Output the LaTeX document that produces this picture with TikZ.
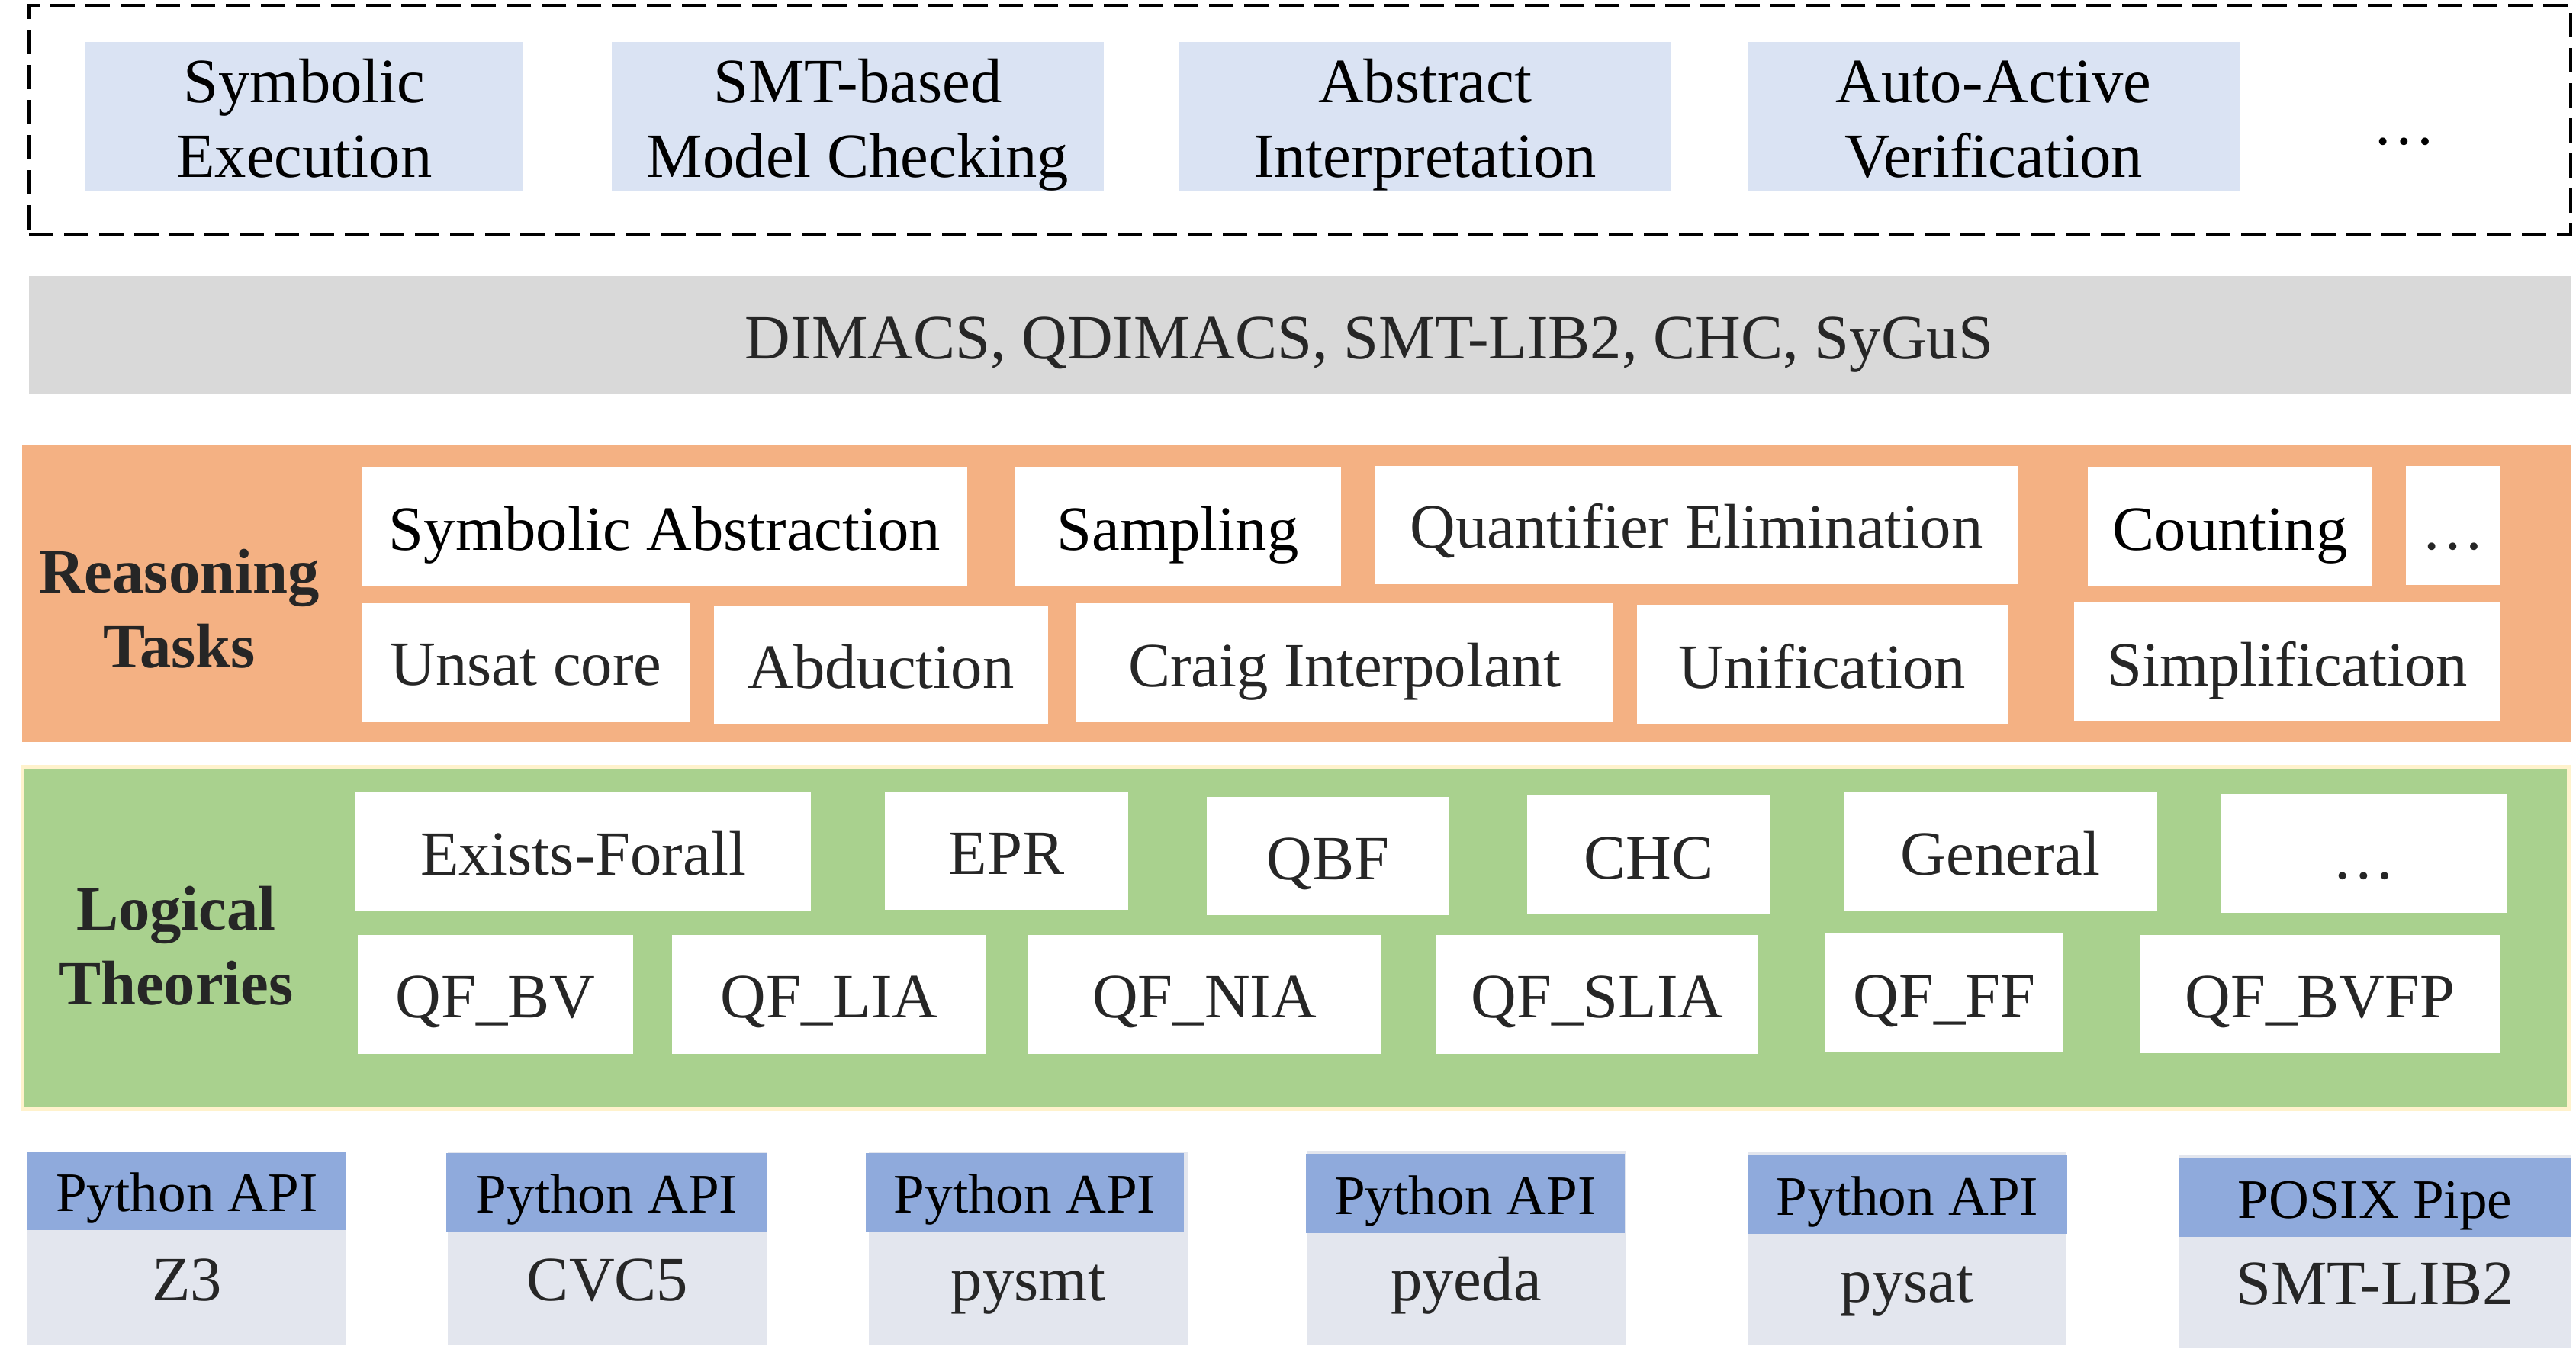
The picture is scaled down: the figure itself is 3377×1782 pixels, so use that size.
\documentclass[tikz,border=0pt]{standalone}
\usepackage{fontspec}
\setmainfont{Liberation Serif}
\definecolor{topblue}{HTML}{DAE3F3}
\definecolor{bandgray}{HTML}{D9D9D9}
\definecolor{orangep}{HTML}{F4B183}
\definecolor{greenp}{HTML}{A9D18E}
\definecolor{greenedge}{HTML}{FFF2CC}
\definecolor{hdrblue}{HTML}{8FAADC}
\definecolor{bodygray}{HTML}{E3E6EE}
\definecolor{txtgray}{HTML}{262626}
\tikzset{
  plainbox/.style={rectangle, inner sep=0pt, outer sep=0pt, align=center},
  bigfont/.style={font=\fontsize{23.5}{27.9}\selectfont},
  topbox/.style={plainbox, fill=topblue, bigfont, text=black},
  whitebox/.style={plainbox, fill=white, bigfont, text=txtgray},
  whiteboxk/.style={whitebox, text=black},
  hdr/.style={plainbox, fill=hdrblue, font=\fontsize{20.8}{25}\selectfont, text=black},
  bodybox/.style={plainbox, fill=bodygray, bigfont, text=txtgray},
  lbl/.style={plainbox, font=\fontsize{23.5}{27.9}\selectfont\bfseries, text=txtgray},
  plaintext/.style={inner sep=0pt, outer sep=0pt, bigfont},
}
% style, x1, y1, x2, y2, baseline, name, text
\newcommand\onebox[8]{\node[#1, minimum width={(#4-#2)*0.01cm}, minimum height={(#5-#3)*0.01cm}, text height={(2*#6-#3-#5)*0.01cm}, text depth=0pt] (#7) at ({(#2+#4)/2},{(#3+#5)/2}) {#8};}
% style, x1, y1, x2, y2, name
\newcommand\panelbox[6]{\node[#1, minimum width={(#4-#2)*0.01cm}, minimum height={(#5-#3)*0.01cm}] (#6) at ({(#2+#4)/2},{(#3+#5)/2}) {};}
% style, x1, y1, x2, y2, name, line1, line2
\newcommand\twobox[8]{\node[#1, minimum width={(#4-#2)*0.01cm}, minimum height={(#5-#3)*0.01cm}] (#6) at ({(#2+#4)/2},{(#3+#5)/2}) {\rule{0pt}{0.96em}#7\\#8\rule[-0.22em]{0pt}{0.22em}};}
\begin{document}
\begin{tikzpicture}[x=0.01cm,y=-0.01cm]
\useasboundingbox (0,0) rectangle (3377,1782);
% ---------- applications (dashed frame) ----------
\panelbox{plainbox, draw=black, line width=0.04cm, dash pattern=on 0.32cm off 0.14cm}{38}{7}{3370}{307}{apps}
\twobox{topbox}{112}{55}{686}{250}{symex}{Symbolic}{Execution}
\twobox{topbox}{802}{55}{1447}{250}{smtmc}{SMT-based}{Model Checking}
\twobox{topbox}{1545}{55}{2191}{250}{absint}{Abstract}{Interpretation}
\twobox{topbox}{2291}{55}{2936}{250}{autoact}{Auto-Active}{Verification}
\node[plaintext, anchor=base, text=black] (appdots) at (3152,190) {…};
% ---------- formats band ----------
\panelbox{plainbox, fill=bandgray}{38}{362}{3370}{517}{band}
\node[plaintext, anchor=base, text=txtgray] (bandtext) at (1795,471) {DIMACS, QDIMACS, SMT-LIB2, CHC, SyGuS};
% ---------- reasoning tasks ----------
\panelbox{plainbox, fill=orangep}{29}{583}{3370}{973}{tasks}
\node[lbl] (tasklbl) at (235,795.5) {\rule{0pt}{0.96em}Reasoning\\Tasks\rule[-0.22em]{0pt}{0.22em}};
\onebox{whiteboxk}{475}{612}{1268}{768}{721}{sa}{Symbolic Abstraction}
\onebox{whiteboxk}{1330}{612}{1758}{768}{721}{samp}{Sampling}
\onebox{whitebox}{1802}{611}{2646}{766}{718}{qe}{Quantifier Elimination}
\onebox{whiteboxk}{2737}{612}{3110}{768}{721}{cnt}{Counting}
\onebox{whitebox}{3154}{611}{3278}{767}{720}{rdots}{…}
\onebox{whitebox}{475}{791}{904}{947}{898}{uc}{Unsat core}
\onebox{whitebox}{936}{795}{1374}{949}{902}{abd}{Abduction}
\onebox{whitebox}{1410}{791}{2115}{947}{900}{ci}{Craig Interpolant}
\onebox{whitebox}{2146}{793}{2632}{949}{902}{uni}{Unification}
\onebox{whitebox}{2719}{790}{3278}{946}{899}{simp}{Simplification}
% ---------- logical theories ----------
\panelbox{plainbox, fill=greenp, draw=greenedge, line width=0.05cm}{29.5}{1005.5}{3367.5}{1454.5}{theories}
\node[lbl] (theolbl) at (231,1237.5) {\rule{0pt}{0.96em}Logical\\Theories\rule[-0.22em]{0pt}{0.22em}};
\onebox{whitebox}{466}{1039}{1063}{1195}{1147}{ef}{Exists-Forall}
\onebox{whitebox}{1160}{1038}{1479}{1193}{1146}{epr}{EPR}
\onebox{whitebox}{1582}{1045}{1900}{1200}{1153}{qbf}{QBF}
\onebox{whitebox}{2002}{1043}{2321}{1199}{1152}{chc}{CHC}
\onebox{whitebox}{2417}{1039}{2828}{1194}{1147}{gen}{General}
\onebox{whitebox}{2911}{1041}{3286}{1197}{1152}{gdots}{…}
\onebox{whitebox}{469}{1226}{830}{1382}{1334}{bv}{QF\_BV}
\onebox{whitebox}{881}{1226}{1293}{1382}{1334}{lia}{QF\_LIA}
\onebox{whitebox}{1347}{1226}{1811}{1382}{1334}{nia}{QF\_NIA}
\onebox{whitebox}{1883}{1226}{2305}{1382}{1334}{slia}{QF\_SLIA}
\onebox{whitebox}{2393}{1224}{2705}{1380}{1333}{ff}{QF\_FF}
\onebox{whitebox}{2805}{1226}{3278}{1381}{1334}{bvfp}{QF\_BVFP}
% ---------- back ends ----------
\onebox{bodybox}{36}{1510}{454}{1763}{1705}{z3}{Z3}
\onebox{hdr}{36}{1510}{454}{1613}{1588}{z3h}{Python API}
\onebox{bodybox}{587}{1510}{1006}{1763}{1705}{cvc}{CVC5}
\onebox{hdr}{585}{1512}{1006}{1616}{1590}{cvch}{Python API}
\onebox{bodybox}{1139}{1510}{1557}{1763}{1705}{pysmt}{pysmt}
\onebox{hdr}{1135}{1512}{1552}{1616}{1590}{pysmth}{Python API}
\onebox{bodybox}{1713}{1509}{2131}{1763}{1705}{pyeda}{pyeda}
\onebox{hdr}{1712}{1513}{2130}{1617}{1592}{pyedah}{Python API}
\onebox{bodybox}{2291}{1511}{2709}{1764}{1707}{pysat}{pysat}
\onebox{hdr}{2291}{1514}{2710}{1618}{1593}{pysath}{Python API}
\onebox{bodybox}{2857}{1515}{3370}{1768}{1710}{smtlib}{SMT-LIB2}
\onebox{hdr}{2857}{1518}{3370}{1622}{1597}{smtlibh}{POSIX Pipe}
\end{tikzpicture}
\end{document}
